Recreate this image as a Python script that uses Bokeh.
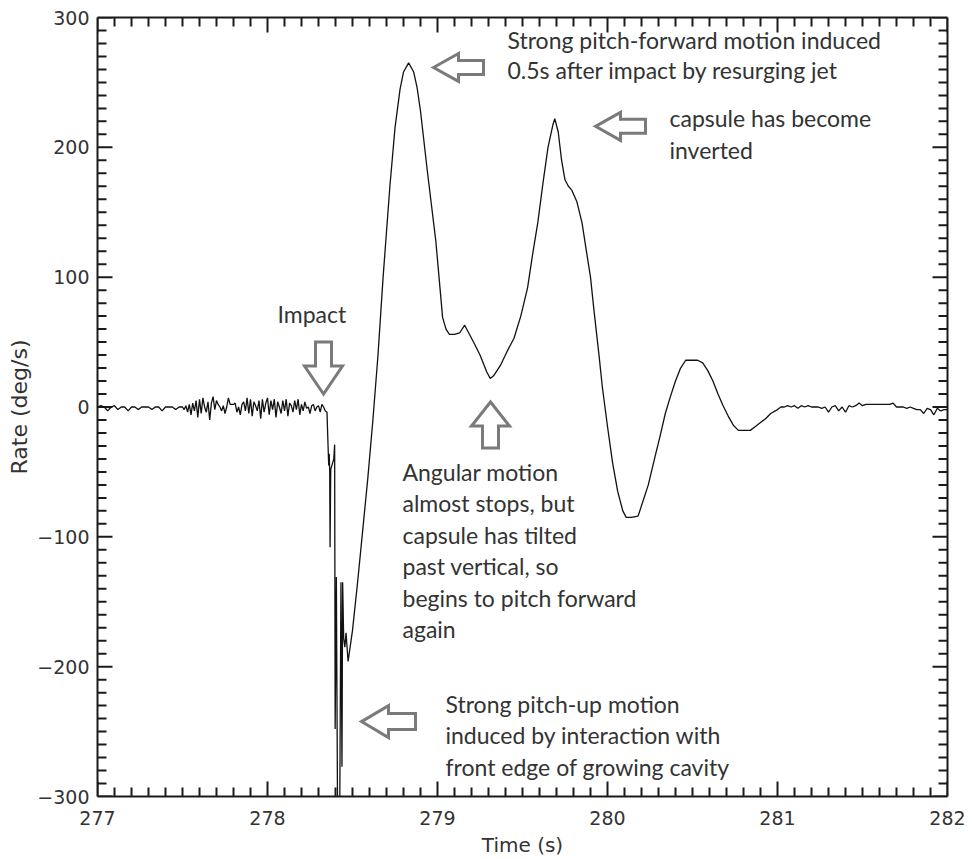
import numpy as np
from bokeh.plotting import figure
from bokeh.models import Range1d, LinearAxis, FixedTicker, CustomJSTickFormatter
from bokeh.core.properties import value
from bokeh.embed import file_html
from bokeh.resources import INLINE

# ---------------- data ----------------
# quiet pre-impact record, 277.00 .. 277.48 every 0.02 s
t_quiet_start, t_quiet_step = 277.00, 0.02
v_quiet = [0, 1, 0, -3, 0, 1, -2, 0, 0, -3, 0, 0, -2, 0, 0, 0, -2, 0, 0, -3,
           0, 0, 0, -2, 0]

# noisy pre-impact record, 277.50 .. 278.34 every 0.01 s
t_noise_start, t_noise_step = 277.50, 0.01
v_noise = [0, -2, 1, -4, 2, -6, 3, -3, 5, -8,
           6, -5, 7, 0, -4, 4, -10, 3, 8, -2,
           5, 2, 0, -3, 1, -5, 0, 7, 2, 2,
           2, 3, -4, 0, -6, 2, 4, -3, 7, -5,
           6, -7, 4, 1, -3, 5, -9, 6, -4, 3,
           7, -6, 5, -2, 6, -8, 4, 0, -5, 5,
           -3, 6, -7, 3, 1, -4, 5, -2, 6, -6,
           2, -3, 4, -1, 0, -5, 1, 2, -3, 0,
           1, -4, 2, 0, -3]

# impact transient and main oscillation
t_main = [278.350, 278.355, 278.360, 278.363, 278.366, 278.368, 278.372, 278.390,
          278.395, 278.398, 278.405, 278.412, 278.425, 278.432, 278.438, 278.442,
          278.448, 278.455, 278.462, 278.474,
          278.50, 278.53, 278.56, 278.59, 278.62, 278.65, 278.68, 278.72, 278.75,
          278.78, 278.80, 278.83, 278.86, 278.88, 278.90, 278.94, 278.99, 279.03,
          279.05, 279.07, 279.10, 279.13, 279.16, 279.18, 279.22, 279.25, 279.29,
          279.31, 279.33, 279.37, 279.41, 279.45, 279.49, 279.53, 279.56, 279.59,
          279.62, 279.65, 279.68, 279.69, 279.71, 279.73, 279.75, 279.77, 279.79,
          279.82, 279.85, 279.87, 279.90, 279.92, 279.95, 279.97, 280.00, 280.03,
          280.06, 280.09, 280.11, 280.14, 280.18, 280.21, 280.24, 280.28, 280.31,
          280.34, 280.37, 280.40, 280.43, 280.46, 280.48, 280.53, 280.56, 280.59,
          280.62, 280.65, 280.68, 280.71, 280.74, 280.77, 280.80, 280.84, 280.87,
          280.90, 280.93, 280.96, 281.00, 281.02]
v_main = [-4, -25, -45, -36, -50, -108, -48, -40,
          -29, -248, -131, -310, -310, -135, -277, -135,
          -178, -185, -174, -196,
          -172, -135, -95, -55, -10, 40, 100, 170, 215,
          245, 258, 265, 258, 246, 228, 182, 128, 69,
          60, 56, 56, 57, 63, 58, 48, 40, 27,
          22, 24, 32, 43, 53, 70, 92, 118, 142,
          172, 200, 218, 222, 212, 190, 175, 170, 167,
          158, 142, 125, 100, 75, 40, 15, -15, -43,
          -65, -80, -85, -85, -84, -72, -60, -38, -22,
          -5, 8, 20, 30, 36, 36, 36, 34, 28,
          20, 10, 1, -7, -14, -18, -18, -18, -15,
          -12, -9, -5, -2, 0]

# settled record, 281.04 .. 282.00 every 0.02 s
t_tail_start, t_tail_step = 281.04, 0.02
v_tail = [0, 1, 0, 1, -1, 1, 0, 1, 0, 0,
          0, -1, 0, -4, 0, 1, -3, 0, -4, 1,
          0, 1, 3, 1, 2, 2, 2, 2, 2, 2,
          2, 2, 3, 0, 0, 0, -1, 0, -1, -2,
          -2, -5, -1, -2, -6, -1, -3, -2, -2]

x_major = [277, 278, 279, 280, 281, 282]
y_major = [-300, -200, -100, 0, 100, 200, 300]

notes_impact = ["Impact"]
notes_peak1 = ["Strong pitch-forward motion induced", "0.5s after impact by resurging jet"]
notes_peak2 = ["capsule has become", "inverted"]
notes_dip = ["Angular motion", "almost stops, but", "capsule has tilted",
             "past vertical, so", "begins to pitch forward", "again"]
notes_cavity = ["Strong pitch-up motion", "induced by interaction with",
                "front edge of growing cavity"]

# ---------------- assemble series ----------------
t_q = [t_quiet_start + t_quiet_step * i for i in range(len(v_quiet))]
t_n = [t_noise_start + t_noise_step * i for i in range(len(v_noise))]
t_t = [t_tail_start + t_tail_step * i for i in range(len(v_tail))]
t_all = t_q + t_n + t_main + t_t
v_all = v_quiet + v_noise + v_main + v_tail

x_minor = [round(x_major[0] + 0.1 * i, 2) for i in range(int((x_major[-1] - x_major[0]) * 10) + 1)]
y_minor = [y_major[0] + 10 * i for i in range(int((y_major[-1] - y_major[0]) / 10) + 1)]
x_minor = [x for x in x_minor if x not in x_major]
y_minor = [y for y in y_minor if y not in y_major]

# ---------------- figure ----------------
W, H = 972, 859
L, R, T, B = 97, 25, 17, 62
XMIN, XMAX, YMIN, YMAX = 277, 282, -300, 300
p = figure(width=W, height=H, output_backend="svg", toolbar_location=None,
           x_range=Range1d(XMIN, XMAX), y_range=Range1d(YMIN, YMAX),
           x_axis_type=None, y_axis_type=None,
           min_border_left=L, min_border_right=R, min_border_top=T, min_border_bottom=B)
p.background_fill_color = "white"
p.border_fill_color = "white"
p.outline_line_color = None
p.xgrid.visible = False
p.ygrid.visible = False

fmt = CustomJSTickFormatter(code="return (tick < 0 ? '\\u2212' : '') + Math.abs(tick).toFixed(0);")
blank = CustomJSTickFormatter(code="return '';")

AX_COL = "#1a1a1a"

def style_axis(ax, labels=True):
    ax.axis_line_color = AX_COL
    ax.axis_line_width = 2
    ax.major_tick_line_color = None
    ax.minor_tick_line_color = None
    ax.major_tick_in = 0
    ax.major_tick_out = 0
    ax.minor_tick_in = 0
    ax.minor_tick_out = 0
    ax.major_label_text_font = "DejaVu Sans"
    ax.major_label_text_font_size = "19px"
    ax.major_label_text_color = "#333333"
    ax.axis_label_text_font = "DejaVu Sans"
    ax.axis_label_text_font_size = "20px"
    ax.axis_label_text_font_style = "normal"
    ax.axis_label_text_color = "#333333"
    if not labels:
        ax.major_label_text_font_size = "0px"
        ax.major_label_standoff = 0

def make_axis(major, formatter, label=None):
    ax = LinearAxis(ticker=FixedTicker(ticks=major, minor_ticks=[]), formatter=formatter)
    if label:
        ax.axis_label = label
    return ax

xb = make_axis(x_major, fmt, "Time (s)")
style_axis(xb)
xb.major_label_standoff = 14
xb.axis_label_standoff = 5
p.add_layout(xb, "below")

xt = make_axis(x_major, blank)
style_axis(xt, labels=False)
p.add_layout(xt, "above")

yl = make_axis(y_major, fmt, "Rate (deg/s)")
style_axis(yl)
yl.axis_label_text_font_size = "22px"
yl.major_label_standoff = 8
yl.axis_label_standoff = 2
p.add_layout(yl, "left")

yr = make_axis(y_major, blank)
style_axis(yr, labels=False)
p.add_layout(yr, "right")

# inward tick marks on all four sides (lengths in pixels converted to data units)
fx0, fx1, fy0, fy1 = L, W - R, T, H - B
sx = (XMAX - XMIN) / (fx1 - fx0)   # data per px, x
sy = (YMAX - YMIN) / (fy1 - fy0)   # data per px, y
MAJ, MIN = 15, 9
for ticks, ln in ((x_major, MAJ), (x_minor, MIN)):
    p.segment(x0=ticks, y0=[YMIN] * len(ticks), x1=ticks, y1=[YMIN + ln * sy] * len(ticks),
              line_color=AX_COL, line_width=2)
    p.segment(x0=ticks, y0=[YMAX] * len(ticks), x1=ticks, y1=[YMAX - ln * sy] * len(ticks),
              line_color=AX_COL, line_width=2)
for ticks, ln in ((y_major, MAJ), (y_minor, MIN)):
    p.segment(x0=[XMIN] * len(ticks), y0=ticks, x1=[XMIN + ln * sx] * len(ticks), y1=ticks,
              line_color=AX_COL, line_width=2)
    p.segment(x0=[XMAX] * len(ticks), y0=ticks, x1=[XMAX - ln * sx] * len(ticks), y1=ticks,
              line_color=AX_COL, line_width=2)

p.line(t_all, v_all, line_color="#111111", line_width=1.3)

# ---------------- annotations (placed in plot pixels, converted to data) ----------------
def px2x(px):
    return XMIN + (px - fx0) * sx
def py2y(py):
    return YMAX - (py - fy0) * sy

def arrow(tip, direction, length=52, head=26, hh=16, sh=8):
    tx, ty = tip
    if direction == "left":
        pts = [(tx, ty), (tx + head, ty - hh), (tx + head, ty - sh), (tx + length, ty - sh),
               (tx + length, ty + sh), (tx + head, ty + sh), (tx + head, ty + hh)]
    elif direction == "down":
        pts = [(tx, ty), (tx - hh, ty - head), (tx - sh, ty - head), (tx - sh, ty - length),
               (tx + sh, ty - length), (tx + sh, ty - head), (tx + hh, ty - head)]
    else:  # up
        pts = [(tx, ty), (tx - hh, ty + head), (tx - sh, ty + head), (tx - sh, ty + length),
               (tx + sh, ty + length), (tx + sh, ty + head), (tx + hh, ty + head)]
    p.patch([px2x(a) for a, b in pts], [py2y(b) for a, b in pts],
            fill_color="white", line_color="#7a7a7a", line_width=3, line_join="miter")

arrow((323, 394), "down", length=52, head=28, hh=19, sh=8)
arrow((490, 402), "up", length=46, head=24, hh=19, sh=8)
arrow((433, 67), "left", length=50, head=25, hh=14, sh=7)
arrow((595, 126), "left", length=50, head=25, hh=14, sh=7)
arrow((361, 722), "left", length=54, head=27, hh=16, sh=8)

def note(lines, x_px, y_px, step=31.5):
    p.text(x=[px2x(x_px)] * len(lines), y=[py2y(y_px + step * i) for i in range(len(lines))],
           text=lines, text_font=value("Lato"), text_font_size="23px",
           text_color="#333333", text_align="left", text_baseline="middle")

note(notes_impact, 277, 314)
note(notes_peak1, 507, 40, step=30)
note(notes_peak2, 669, 118, step=32)
note(notes_dip, 402, 472)
note(notes_cavity, 445, 704)

open("out.html", "w").write(file_html(p, INLINE))
